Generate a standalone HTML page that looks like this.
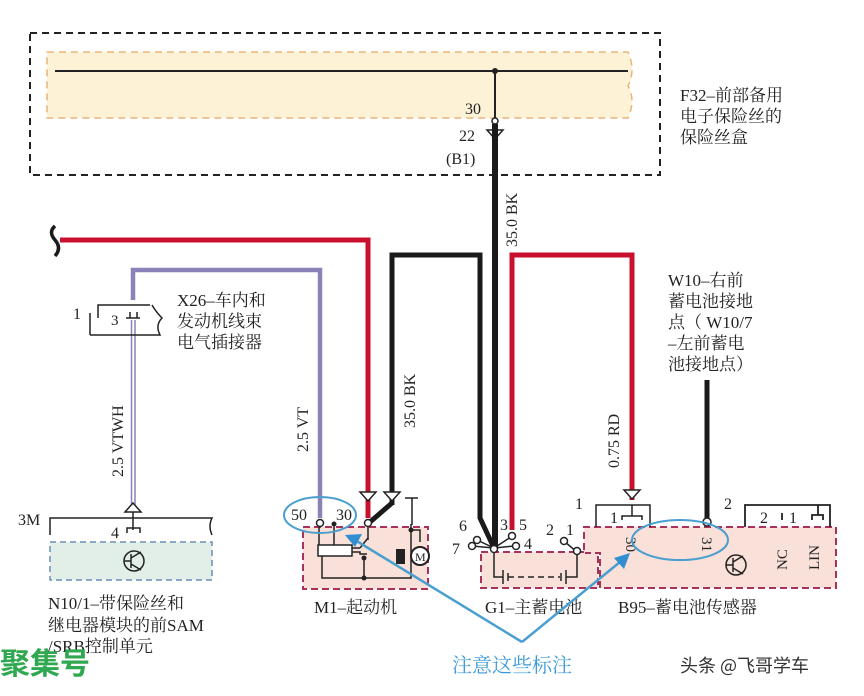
<!DOCTYPE html>
<html><head><meta charset="utf-8"><style>
html,body{margin:0;padding:0;background:#fff}
svg{display:block}
text{font-family:"Liberation Serif","Noto Serif CJK SC",serif;fill:#222}
.cn{font-family:"Liberation Serif","Noto Serif CJK SC",serif}
</style></head><body>
<svg width="864" height="696" viewBox="0 0 864 696" xmlns="http://www.w3.org/2000/svg">
<rect x="30" y="33" width="630" height="142" fill="none" stroke="#222" stroke-width="2" stroke-dasharray="7,5"/>
<path d="M47 52 H628 Q636 70 628 86 Q636 100 628 118 H47 Z" fill="#fdf2d6" stroke="#e8b57a" stroke-width="1.5" stroke-dasharray="7,5"/>
<line x1="55" y1="71" x2="628" y2="71" stroke="#222" stroke-width="2"/>
<circle cx="495" cy="71" r="3" fill="#222"/>
<line x1="495" y1="71" x2="495" y2="120" stroke="#222" stroke-width="2"/>
<circle cx="495" cy="121" r="3" fill="#fff" stroke="#222" stroke-width="1.5"/>
<text x="465" y="114" font-size="16">30</text>
<text x="459" y="141" font-size="16">22</text>
<text x="446" y="164" font-size="16">(B1)</text>
<path d="M487 130 L503 130 L495 139 Z" fill="#fff" stroke="#222" stroke-width="1.5"/>
<text class="cn" x="680" y="101" font-size="17">F32–前部备用</text>
<text class="cn" x="680" y="122" font-size="17">电子保险丝的</text>
<text class="cn" x="680" y="143" font-size="17">保险丝盒</text>

<path d="M495 124 V520 L495 548" stroke="#1a1a1a" stroke-width="6" fill="none"/>
<path d="M392 505 V255 H480 V518 L494 548" stroke="#1a1a1a" stroke-width="5" fill="none"/>
<path d="M392 503 L370 522" stroke="#1a1a1a" stroke-width="5" fill="none"/>
<text x="0" y="0" font-size="16" transform="translate(517 247) rotate(-90)">35.0 BK</text>
<text x="0" y="0" font-size="16" transform="translate(415 428) rotate(-90)">35.0 BK</text>

<path d="M60 240 H368 V518" stroke="#c8102e" stroke-width="5" fill="none"/>
<path d="M55 226 Q48 232 55 240 Q62 248 55 256" stroke="#1a1a1a" stroke-width="3.5" fill="none"/>
<path d="M512 530 V255 H632 V500" stroke="#c8102e" stroke-width="5" fill="none"/>
<text x="0" y="0" font-size="16" transform="translate(619 468) rotate(-90)">0.75 RD</text>

<path d="M133 300 V270 H320 V518" stroke="#8a82b8" stroke-width="4.5" fill="none"/>
<line x1="131.5" y1="320" x2="131.5" y2="505" stroke="#8a82b8" stroke-width="1.5"/>
<line x1="135" y1="320" x2="135" y2="505" stroke="#8a82b8" stroke-width="1.5"/>
<text x="0" y="0" font-size="16" transform="translate(123 477) rotate(-90)">2.5 VTWH</text>
<text x="0" y="0" font-size="16" transform="translate(308 452) rotate(-90)">2.5 VT</text>

<path d="M90 335 V313 M90 335 H160 Q155 325 162 318 Q156 312 152 305 M98 318 V305 H150" stroke="#222" stroke-width="1.5" fill="none"/>
<path d="M126 318 H140 M130 312 V318 M137 312 V318" stroke="#222" stroke-width="1.5" fill="none"/>
<text x="73" y="319" font-size="16">1</text>
<text x="111" y="325" font-size="15">3</text>
<text class="cn" x="177" y="306" font-size="17">X26–车内和</text>
<text class="cn" x="177" y="327" font-size="17">发动机线束</text>
<text class="cn" x="177" y="348" font-size="17">电气插接器</text>

<path d="M125 512 L141 512 L133 503 Z" fill="#fff" stroke="#222" stroke-width="1.5"/>
<path d="M50 535 V518 H212 Q208 526 212 535" stroke="#222" stroke-width="1.5" fill="none"/>
<path d="M133 512 V530 M127 533 V528 H140 V533" stroke="#222" stroke-width="1.5" fill="none"/>
<text x="18" y="525" font-size="16">3M</text>
<text x="111" y="538" font-size="16">4</text>
<rect x="50" y="542" width="162" height="38" fill="#e2efe8" stroke="#6b8fb5" stroke-width="1.5" stroke-dasharray="6,4"/>
<circle cx="134" cy="561" r="10" fill="none" stroke="#222" stroke-width="1.5"/>
<path d="M124 561 H131 M131 554 V568 M131 558 L141 552 M131 564 L141 570" stroke="#222" stroke-width="1.5" fill="none"/>
<text class="cn" x="48" y="609" font-size="17">N10/1–带保险丝和</text>
<text class="cn" x="48" y="631" font-size="17">继电器模块的前SAM</text>
<text class="cn" x="48" y="652" font-size="17">/SRB控制单元</text>
<text x="0" y="674" font-size="30" font-weight="bold" style="fill:#2fa84f;font-family:'Noto Sans CJK SC',sans-serif">聚集号</text>

<path d="M360 492 L376 492 L368 501 Z M384 492 L400 492 L392 501 Z" fill="#fff" stroke="#222" stroke-width="1.5"/>
<rect x="303" y="527" width="125" height="62" fill="#f9e0d8" stroke="#a8325a" stroke-width="2" stroke-dasharray="7,4"/>
<path d="M412 498 V525 M405 498 H418" stroke="#222" stroke-width="1.5"/>
<path d="M319 524 V552 M334 524 V552 M352 548 H360 M352 552 H360 L360 554 L367 554 M360 548 L368 538 M368 524 V540 M322 556 V578 H411 V524 M364 556 V578 M411 530 H420 V542" stroke="#222" stroke-width="1.5" fill="none"/>
<rect x="318" y="545" width="34" height="11" fill="#fff" stroke="#222" stroke-width="1.5"/>
<circle cx="334" cy="524" r="2.5" fill="#222"/><circle cx="364" cy="558" r="2.5" fill="#222"/><circle cx="364" cy="578" r="2.5" fill="#222"/><circle cx="411" cy="530" r="2.5" fill="#222"/>
<circle cx="320" cy="523" r="3.5" fill="#fff" stroke="#222" stroke-width="1.5"/>
<circle cx="368" cy="523" r="3.5" fill="#fff" stroke="#222" stroke-width="1.5"/>
<rect x="396" y="549" width="9" height="15" fill="#222"/>
<circle cx="420" cy="556" r="9" fill="#fff" stroke="#222" stroke-width="2"/>
<text x="415" y="561" font-size="12">M</text>
<text x="291" y="520" font-size="16">50</text>
<text x="336" y="520" font-size="16">30</text>
<text class="cn" x="314" y="613" font-size="17">M1–起动机</text>

<rect x="481" y="552" width="117" height="36" fill="#f9e0d8" stroke="#a8325a" stroke-width="2" stroke-dasharray="7,4"/>
<path d="M494 548 L477 540 M494 548 L472 546 M494 548 L511 537 M494 548 L514 546 M494 548 V577 H503 M503 570 V584 M508 573 V581 M566 570 V584 M561 573 V581 M566 577 H577 V552 M577 552 L565 542" stroke="#222" stroke-width="1.5" fill="none" />
<path d="M508 577 H560" stroke="#222" stroke-width="1.5" stroke-dasharray="6,4"/>
<circle cx="477" cy="540" r="3.5" fill="#fff" stroke="#222" stroke-width="1.5"/>
<circle cx="472" cy="546" r="3.5" fill="#fff" stroke="#222" stroke-width="1.5"/>
<circle cx="512" cy="536" r="3.5" fill="#fff" stroke="#222" stroke-width="1.5"/>
<circle cx="516" cy="546" r="3.5" fill="#fff" stroke="#222" stroke-width="1.5"/>
<circle cx="494" cy="549" r="3.5" fill="#fff" stroke="#222" stroke-width="1.5"/>
<circle cx="564" cy="541" r="3.5" fill="#fff" stroke="#222" stroke-width="1.5"/>
<circle cx="577" cy="551" r="3.5" fill="#fff" stroke="#222" stroke-width="1.5"/>
<text x="459" y="531" font-size="16">6</text><text x="452" y="554" font-size="16">7</text>
<text x="500" y="530" font-size="16">3</text><text x="519" y="530" font-size="16">5</text>
<text x="524" y="549" font-size="16">4</text>
<text x="546" y="535" font-size="16">2</text><text x="566" y="535" font-size="16">1</text>
<text class="cn" x="485" y="613" font-size="17">G1–主蓄电池</text>

<path d="M584 550 V527 H836 V588 H600 V553 H584" fill="#f9e0d8" stroke="none"/>
<path d="M584 550 V527 H836 V588 H600 V553 H585" fill="none" stroke="#a8325a" stroke-width="2" stroke-dasharray="7,4"/>
<path d="M624 490 L640 490 L632 499 Z" fill="#fff" stroke="#222" stroke-width="1.5"/>
<path d="M707 380 V520" stroke="#1a1a1a" stroke-width="5"/>
<circle cx="707" cy="522" r="4" fill="#fff" stroke="#222" stroke-width="1.5"/>
<path d="M596 527 V505 H650 V527 M622 520 V516 H642 V520 M632 505 V516" stroke="#222" stroke-width="1.5" fill="none"/>
<path d="M745 527 V505 H830 V527 M812 520 V515 H823 V520 M818 505 V515 M782 520 V513" stroke="#222" stroke-width="1.8" fill="none"/>
<text x="575" y="509" font-size="16">1</text><text x="610" y="523" font-size="16">1</text>
<text x="724" y="509" font-size="16">2</text><text x="760" y="523" font-size="16">2</text><text x="789" y="523" font-size="16">1</text>
<text x="0" y="0" font-size="15" transform="translate(626 537) rotate(90)">30</text>
<text x="0" y="0" font-size="15" transform="translate(702 537) rotate(90)">31</text>
<text x="0" y="0" font-size="15" transform="translate(787 570) rotate(-90)">NC</text>
<text x="0" y="0" font-size="15" transform="translate(819 570) rotate(-90)">LIN</text>
<circle cx="736" cy="565" r="10" fill="none" stroke="#222" stroke-width="1.5"/>
<path d="M726 565 H733 M733 558 V572 M733 562 L743 556 M733 568 L743 574" stroke="#222" stroke-width="1.5" fill="none"/>
<text class="cn" x="618" y="613" font-size="17">B95–蓄电池传感器</text>
<text class="cn" x="668" y="286" font-size="17">W10–右前</text>
<text class="cn" x="668" y="307" font-size="17">蓄电池接地</text>
<text class="cn" x="668" y="328" font-size="17">点（ W10/7</text>
<text class="cn" x="668" y="349" font-size="17">–左前蓄电</text>
<text class="cn" x="668" y="370" font-size="17">池接地点）</text>

<ellipse cx="320" cy="515" rx="36" ry="18" fill="none" stroke="#4a9fd0" stroke-width="2"/>
<ellipse cx="680" cy="540" rx="48" ry="20" fill="none" stroke="#4a9fd0" stroke-width="2"/>
<path d="M522 642 L355 540 M522 642 L620 562" stroke="#4a9fd0" stroke-width="2.5" fill="none"/>
<path d="M345 535 L362 534 L355 547 Z" fill="#2f8fd0"/>
<path d="M630 553 L624 569 L614 558 Z" fill="#2f8fd0"/>
<text class="cn" x="452" y="672" font-size="20" style="fill:#3a9ad9">注意这些标注</text>
<text class="cn" x="680" y="672" font-size="18" style="fill:#333;font-family:'Noto Sans CJK SC',sans-serif">头条 @飞哥学车</text>
</svg>
</body></html>
